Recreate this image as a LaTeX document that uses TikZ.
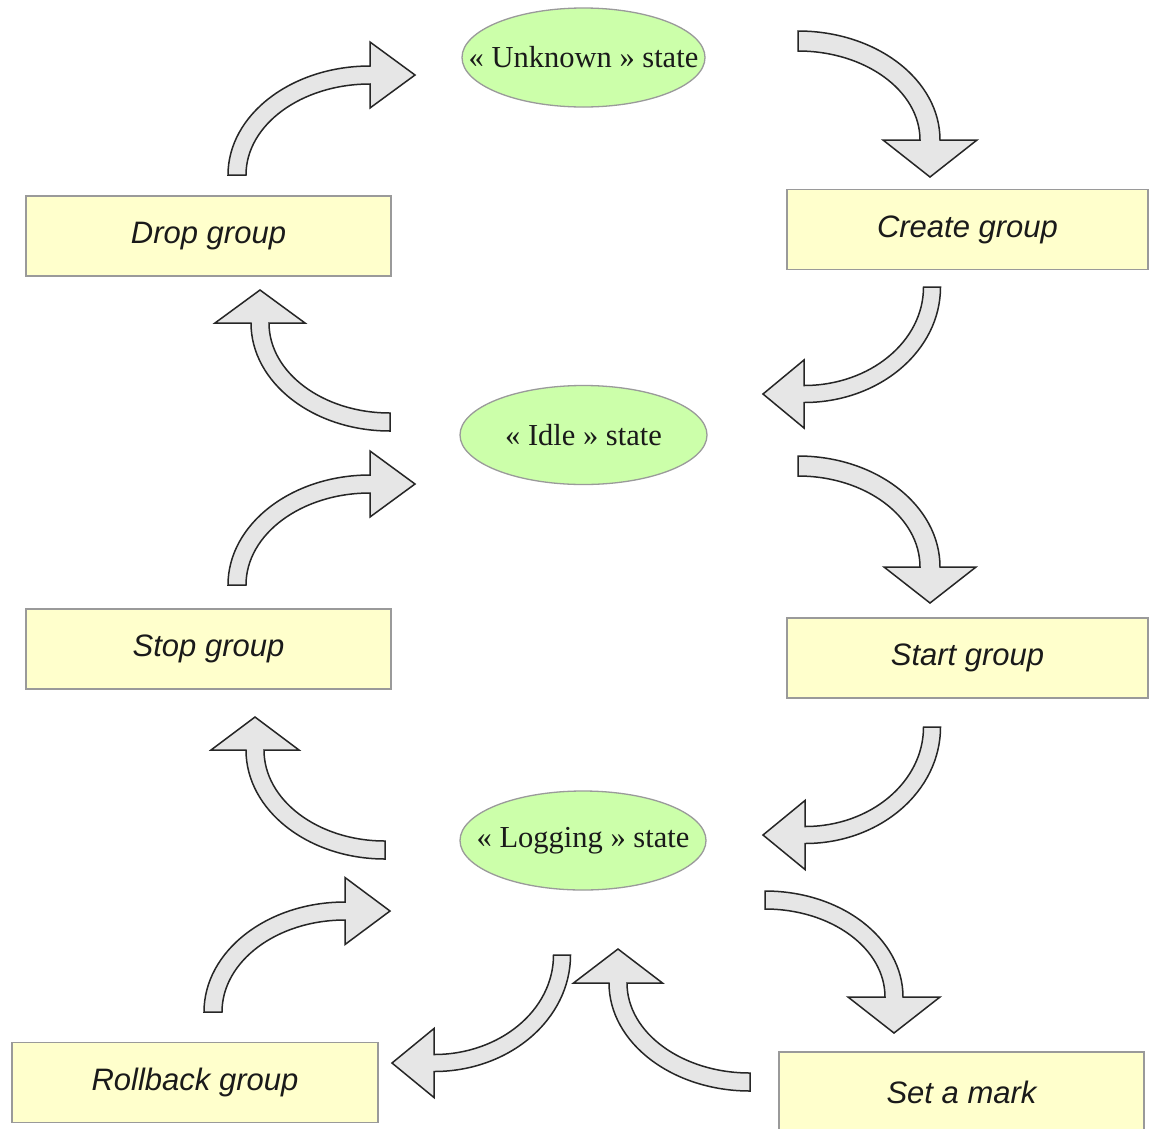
\documentclass[tikz,border=0pt]{standalone}
\usepackage{fontspec}
\setmainfont{Liberation Serif}
\setsansfont{Liberation Sans}
\usetikzlibrary{shapes.geometric}
\definecolor{stategreen}{HTML}{CCFFAA}
\definecolor{boxyellow}{HTML}{FFFFCC}
\definecolor{bordergray}{HTML}{9A9A9A}
\definecolor{arrowfill}{HTML}{E6E6E6}
\definecolor{textdark}{HTML}{1A1A1A}
% curved block arrow: cx cy rx ry start-angle end-angle shaft-width head-length head-halfwidth
\newcommand\bentarrow[9]{%
  \pgfmathsetmacro\bca{cos(#6)}%
  \pgfmathsetmacro\bsa{sin(#6)}%
  \pgfmathsetmacro\bsg{(#6>#5)?1:-1}%
  \pgfmathsetmacro\bhw{(#7)/2}%
  \pgfmathsetmacro\bro{(#3)+(\bhw)}%
  \pgfmathsetmacro\bso{(#4)+(\bhw)}%
  \pgfmathsetmacro\bri{(#3)-(\bhw)}%
  \pgfmathsetmacro\bsi{(#4)-(\bhw)}%
  \pgfmathsetmacro\bpx{(#1)+(#3)*(\bca)}%
  \pgfmathsetmacro\bpy{(#2)+(#4)*(\bsa)}%
  \pgfmathsetmacro\bdx{0-(\bsg)*(\bsa)}%
  \pgfmathsetmacro\bdy{(\bsg)*(\bca)}%
  \pgfmathsetmacro\bsx{(#1)+(\bro)*cos(#5)}%
  \pgfmathsetmacro\bsy{(#2)+(\bso)*sin(#5)}%
  \filldraw[blockarrow] (\bsx,\bsy)
    arc[start angle=#5,end angle=#6,x radius=\bro,y radius=\bso]
    -- ({\bpx+(#9)*(\bca)},{\bpy+(#9)*(\bsa)})
    -- ({\bpx+(#8)*(\bdx)},{\bpy+(#8)*(\bdy)})
    -- ({\bpx-(#9)*(\bca)},{\bpy-(#9)*(\bsa)})
    -- ({\bpx-(\bhw)*(\bca)},{\bpy-(\bhw)*(\bsa)})
    arc[start angle=#6,end angle=#5,x radius=\bri,y radius=\bsi]
    -- cycle;%
}
\begin{document}
\begin{tikzpicture}[x=1pt,y=-1pt,
  state/.style={ellipse,draw=bordergray,fill=stategreen,line width=1.3pt,
    minimum width=244pt,minimum height=99pt,inner sep=0pt},
  statetext/.style={inner sep=0pt,text=textdark,
    font=\fontsize{30.5}{34}\selectfont},
  action/.style={rectangle,draw=bordergray,fill=boxyellow,line width=1.5pt,
    minimum width=365pt,minimum height=80pt,inner sep=0pt,text=textdark,
    font=\sffamily\itshape\fontsize{31}{36}\selectfont},
  blockarrow/.style={draw=black!85,fill=arrowfill,line width=1.5pt,line join=miter}]
\useasboundingbox (0,0) rectangle (1149,1128);
\fill[white] (0,0) rectangle (1149,1128);

% states
\node[state,minimum width=243pt] (unknown) at (583.5,57.5) {};
\node[statetext] (unknowntxt) at (unknown) {«~Unknown~» state};
\node[state,minimum width=247pt] (idle) at (583.5,435) {};
\node[statetext] (idletxt) at (idle) {«~Idle~» state};
\node[state,minimum width=246pt] (logging) at (583,840.5) {};
\node[statetext] (loggingtxt) at (logging) {«~Logging~» state};

% actions
\node[action] (drop) at (208.5,236) {Drop group};
\node[action,minimum width=361pt] (create) at (967.5,229.5) {Create group};
\node[action] (stop) at (208.5,649) {Stop group};
\node[action,minimum width=361pt] (start) at (967.5,658) {Start group};
\node[action,minimum width=366pt] (rollback) at (195,1082.5) {Rollback group};
\node[action] (mark) at (961.5,1092) {Set a mark};

% curved block arrows
\bentarrow{370}{175}{133}{100}{180}{270}{18}{45}{33}
\bentarrow{798}{140}{132}{99}{270}{360}{20}{37}{47}
\bentarrow{804}{287}{128}{107}{0}{90}{17}{41}{34}
\bentarrow{390}{323}{130}{99}{90}{180}{18}{33}{45}
\bentarrow{370}{585}{133}{101}{180}{270}{18}{45}{33}
\bentarrow{798}{567}{132}{101}{270}{360}{20}{36}{46}
\bentarrow{805}{727}{127}{108}{0}{90}{17}{42}{34.5}
\bentarrow{385}{750}{130}{100}{90}{180}{18}{33}{44}
\bentarrow{345}{1012}{132}{101}{180}{270}{18}{45}{33.5}
\bentarrow{765}{997}{129}{97}{270}{360}{18}{36}{46}
\bentarrow{434}{955}{128}{108}{0}{90}{17}{42}{34.5}
\bentarrow{750}{983}{132}{99}{90}{180}{18}{34}{44.5}
\end{tikzpicture}
\end{document}
